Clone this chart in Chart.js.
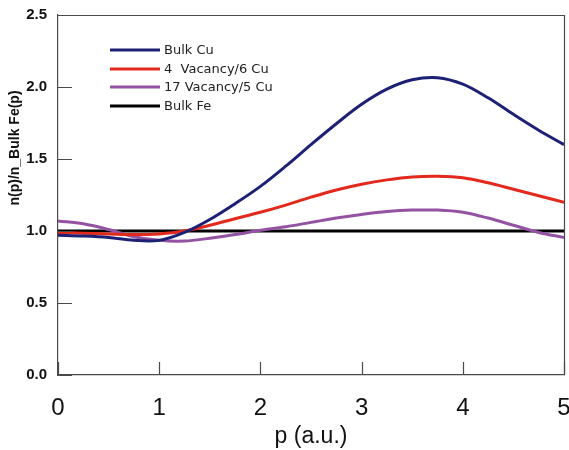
<!DOCTYPE html>
<html>
<head>
<meta charset="utf-8">
<script src="https://cdn.jsdelivr.net/npm/chart.js@4/dist/chart.umd.min.js"></script>
<style>
  html, body { margin: 0; padding: 0; background: #fff; }
  #wrap { width: 569px; height: 450px; }
</style>
</head>
<body>
<div id="wrap"><canvas id="c" width="569" height="450"></canvas></div>
<script>
// Momentum grid (a.u.)
const momentum = [0, 0.25, 0.5, 0.75, 1.0, 1.25, 1.5, 1.75, 2.0, 2.25, 2.5,
                  2.75, 3.0, 3.25, 3.5, 3.75, 4.0, 4.25, 4.5, 4.75, 5.0];

// Momentum density ratios n(p)/n_Bulk Fe(p)
const bulkCu     = [0.97, 0.965, 0.955, 0.935, 0.935, 0.99, 1.08, 1.19, 1.31, 1.45, 1.60,
                    1.745, 1.88, 1.985, 2.05, 2.065, 2.02, 1.925, 1.81, 1.70, 1.60];
const vac4Cu6    = [0.99, 0.985, 0.98, 0.975, 0.98, 1.00, 1.04, 1.085, 1.13, 1.18, 1.235,
                    1.285, 1.325, 1.355, 1.375, 1.38, 1.37, 1.335, 1.29, 1.245, 1.20];
const vac17Cu5   = [1.07, 1.05, 1.01, 0.96, 0.935, 0.93, 0.95, 0.975, 1.005, 1.03, 1.06,
                    1.09, 1.115, 1.135, 1.145, 1.145, 1.13, 1.09, 1.04, 0.99, 0.955];
const bulkFe     = momentum.map(() => 1.0);

const seriesLabels = ['Bulk Cu', '4  Vacancy/6 Cu', '17 Vacancy/5 Cu', 'Bulk Fe'];
const seriesColors = ['#1c2175', '#e3281c', '#9452a3', '#000000'];

const xTicks = [0, 1, 2, 3, 4, 5];
const yTicks = [0.0, 0.5, 1.0, 1.5, 2.0, 2.5];

const frameColor = '#4a4a4a';

function pts(vals) {
  return momentum.map((p, i) => ({ x: p, y: vals[i] }));
}

// Inward tick marks, top/right frame, legend and y-axis title
const decorations = {
  id: 'decorations',
  afterDraw(chart) {
    const { ctx, chartArea: a, scales: { x, y } } = chart;
    ctx.save();
    ctx.strokeStyle = frameColor;
    ctx.lineWidth = 1.2;
    ctx.beginPath();
    ctx.moveTo(a.left, a.top + 0.5);
    ctx.lineTo(a.right + 0.5, a.top + 0.5);
    ctx.lineTo(a.right + 0.5, a.bottom);
    ctx.stroke();

    ctx.beginPath();
    yTicks.forEach(v => {
      const py = Math.round(y.getPixelForValue(v)) + 0.5;
      ctx.moveTo(a.left, py);
      ctx.lineTo(a.left + 14, py);
    });
    xTicks.forEach(v => {
      const px = Math.round(x.getPixelForValue(v)) + 0.5;
      ctx.moveTo(px, a.bottom);
      ctx.lineTo(px, a.bottom - 13);
    });
    ctx.stroke();

    // legend
    const lx0 = a.left + 52, lx1 = a.left + 102;
    const rowY = [50, 69, 87, 106];
    ctx.font = '13px "DejaVu Sans"';
    ctx.textBaseline = 'middle';
    ctx.textAlign = 'left';
    chart.data.datasets.forEach((ds, i) => {
      ctx.strokeStyle = ds.borderColor;
      ctx.lineWidth = 3;
      ctx.beginPath();
      ctx.moveTo(lx0, rowY[i]);
      ctx.lineTo(lx1, rowY[i]);
      ctx.stroke();
      ctx.fillStyle = '#222';
      ctx.fillText(ds.label, lx1 + 4, rowY[i] + 1);
    });

    // y-axis title
    ctx.save();
    ctx.translate(15, 148);
    ctx.rotate(-Math.PI / 2);
    ctx.font = 'bold 14px "Liberation Sans", Arial, sans-serif';
    ctx.fillStyle = '#111';
    ctx.textAlign = 'center';
    ctx.textBaseline = 'middle';
    ctx.fillText('n(p)/n_Bulk Fe(p)', 0, 0);
    ctx.restore();

    ctx.restore();
  }
};

const datasets = [bulkCu, vac4Cu6, vac17Cu5, bulkFe].map((vals, i) => ({
  label: seriesLabels[i],
  data: pts(vals),
  borderColor: seriesColors[i],
  backgroundColor: seriesColors[i],
  borderWidth: 3,
  pointRadius: 0,
  tension: 0.35,
  fill: false
}));

new Chart(document.getElementById('c'), {
  type: 'line',
  data: { datasets },
  plugins: [decorations],
  options: {
    responsive: false,
    animation: false,
    devicePixelRatio: 1,
    layout: { padding: { top: 15, right: 5, left: 0, bottom: 0 } },
    plugins: { legend: { display: false }, tooltip: { enabled: false } },
    scales: {
      x: {
        type: 'linear',
        min: 0, max: 5,
        afterFit(s) { s.height = 75; s.paddingLeft = 0; s.paddingRight = 0; },
        afterBuildTicks(s) { s.ticks = xTicks.map(v => ({ value: v })); },
        grid: { display: false },
        border: { display: true, color: frameColor, width: 1.2 },
        ticks: {
          padding: 11,
          color: '#111',
          font: { family: '"Liberation Sans", Arial, sans-serif', size: 24 },
          callback: v => String(v)
        },
        title: {
          display: true,
          text: 'p (a.u.)',
          color: '#111',
          padding: { top: 0, bottom: 0 },
          font: { family: '"Liberation Sans", Arial, sans-serif', size: 23 }
        }
      },
      y: {
        min: 0, max: 2.5,
        afterFit(s) { s.width = 58; s.paddingTop = 0; s.paddingBottom = 0; },
        afterBuildTicks(s) { s.ticks = yTicks.map(v => ({ value: v })); },
        grid: { display: false },
        border: { display: true, color: frameColor, width: 1.2 },
        ticks: {
          padding: 3,
          color: '#111',
          font: { family: '"Liberation Sans", Arial, sans-serif', size: 15, weight: 'bold' },
          callback: v => Number(v).toFixed(1)
        }
      }
    }
  }
});
</script>
</body>
</html>
